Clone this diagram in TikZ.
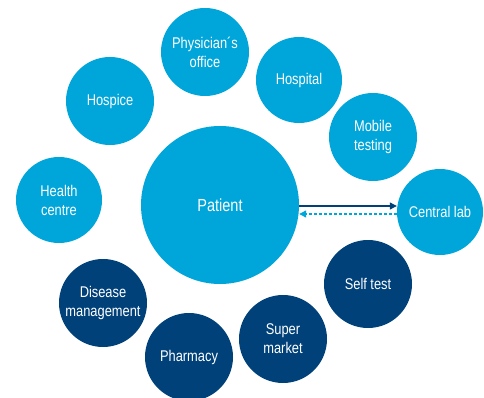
\documentclass[tikz,border=0pt]{standalone}
\usepackage{fontspec}
\setmainfont[FakeStretch=0.83]{Liberation Sans}
\usetikzlibrary{arrows.meta}
\definecolor{lightb}{RGB}{0,165,218}
\definecolor{darkb}{RGB}{0,65,122}
\tikzset{
  bub/.style={circle, fill=lightb, text=white, minimum size=88pt, inner sep=0pt, align=center, font=\fontsize{15.5}{19}\selectfont},
  dbub/.style={bub, fill=darkb},
}
\begin{document}
\begin{tikzpicture}[x=1pt,y=-1pt]
\useasboundingbox (0,0) rectangle (484,398);
\node[bub, minimum size=158pt, font=\fontsize{17.5}{20}\selectfont] (patient) at (220,205) {Patient};
\node[bub] (phys) at (205,52) {Physician´s\\office};
\node[bub, minimum size=86pt] (hosp) at (299,80) {Hospital};
\node[bub] (hospice) at (110,101) {Hospice};
\node[bub] (mobile) at (373,137) {Mobile\\testing};
\node[bub, minimum size=86pt] (health) at (59,200) {Health\\centre};
\node[bub, minimum size=86pt] (lab) at (440,212) {Central lab};
\node[dbub] (disease) at (103,303) {Disease\\management};
\node[dbub] (pharm) at (189,357) {Pharmacy};
\node[dbub] (super) at (283,339) {Super\\market};
\node[dbub] (self) at (368,284) {Self test};
\draw[darkb, line width=1.1pt, -{Triangle[length=7pt,width=7pt]}] (patient.east |- 0,206) -- (lab.west |- 0,206);
\draw[lightb, line width=1.3pt, dash pattern=on 3pt off 2pt, -{Triangle[length=7pt,width=7pt]}] (lab.west |- 0,214) -- (patient.east |- 0,214);
\end{tikzpicture}
\end{document}
